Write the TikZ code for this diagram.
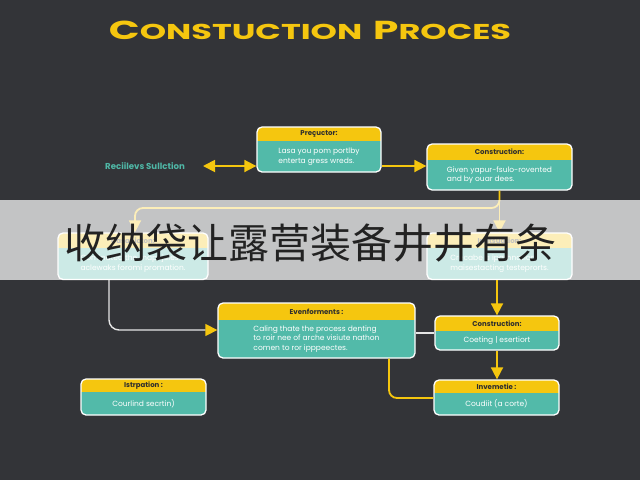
\documentclass[tikz,border=0pt]{standalone}
\usepackage{fontspec}
\setmainfont{Poppins}
\newfontfamily\cjk{Noto Sans CJK SC}
\usetikzlibrary{arrows.meta,fit,calc}
\definecolor{bg}{HTML}{333438}
\definecolor{ylw}{HTML}{F5C60F}
\definecolor{tealb}{HTML}{52BAA9}
\definecolor{hdrtxt}{HTML}{2E2E2E}
\definecolor{lbltxt}{HTML}{4FB7A6}
\definecolor{wline}{HTML}{E6E6E6}
\definecolor{cjktxt}{HTML}{222222}
\tikzset{
 pframe/.style={draw=white, line width=1.3pt, rounded corners=5pt, inner sep=0pt},
 hdr/.style={font=\bfseries\fontsize{7}{8}\selectfont, text=hdrtxt, inner sep=0pt},
 bodyt/.style={font=\fontsize{7.5}{9.5}\selectfont, text=white, align=left, inner sep=0pt},
 yline/.style={draw=ylw, line width=1.8pt},
 wl/.style={draw=wline, line width=1.4pt},
 ytip/.style={-{Triangle[length=12pt,width=12pt,color=ylw]}},
 ytips/.style={{Triangle[length=12pt,width=12pt,color=ylw]}-{Triangle[length=12pt,width=12pt,color=ylw]}},
}
\newcommand\pbox[8]{%
 \fill[tealb, rounded corners=5pt] (#2,#3) rectangle (#4,#5);
 \begin{scope}
 \clip[rounded corners=5pt] (#2,#3) rectangle (#4,#5);
 \fill[ylw] (#2,#3) rectangle (#4,#6);
 \end{scope}
 \node[pframe, fit={(#2,#3) (#4,#5)}] (#1) {};
 \node[hdr] (#1h) at ($(#2,#3)!0.5!(#4,#6)$) {#7};
 \node[bodyt] (#1b) at ($(#2,#6)!0.5!(#4,#5)$) {#8};
}
\begin{document}
\begin{tikzpicture}[x=1pt,y=-1pt]
\fill[bg] (0,0) rectangle (640,480);
\useasboundingbox (0,0) rectangle (640,480);

\node[font=\bfseries, text=ylw, inner sep=0pt] (title) at (310,30)
 {\scalebox{1.56}[1]{{\fontsize{26}{26}\selectfont C}{\fontsize{21.5}{22}\selectfont ONSTUCTION}\hspace{7pt}{\fontsize{26}{26}\selectfont P}{\fontsize{21.5}{22}\selectfont ROCES}}};

\pbox{pre}{257}{127}{381}{172}{141}{Preçuctor:}{Lasa you pom portlby\\enterta gress wreds.}
\pbox{conA}{427}{144}{572}{190}{160}{Construction:}{Given yapur-fsulo-rovented\\and by ouar dees.}
\pbox{lb}{58}{233}{208}{279.5}{248}{Casanicton:}{Cominated the mapojeies\\aclewaks foromi promation.}
\pbox{rb}{427}{233}{572}{279.5}{248}{Indtsuation:}{Crecabe a ipathnation\\maisestacting testeprorts.}
\pbox{ev}{218}{303}{415}{358}{320}{Evenforments :}{Caling thate the process denting\\to roir nee of arche visiute nathon\\comen to ror ipppeectes.}
\pbox{conB}{435}{316}{559}{350}{331}{Construction:}{Coeting | esertiort}
\pbox{inv}{434}{380}{559}{415}{393}{Invemetie :}{Coudiit (a corte)}
\pbox{ist}{81}{379}{206}{415}{392}{Istrpation :}{Courlind secrtin)}

\node[font=\bfseries\fontsize{8.6}{10}\selectfont, text=lbltxt, inner sep=0pt] (lbl) at (145,166) {Reciilevs Sullction};

\coordinate (dl) at (203,166);
\draw[yline, ytips] (dl) -- (pre.west |- dl);
\draw[yline, ytip] (pre.east |- dl) -- (conA.west |- dl);
\draw[yline, ytip] (conA.south) -- (rb.north);
\coordinate (bl) at (135,208);
\draw[yline, ytip, rounded corners=8pt] (conA.south) |- (bl) -- (bl |- lb.north);
\coordinate (lbx) at (109,330);
\draw[wl, ytip, rounded corners=10pt] (lb.south -| lbx) |- (ev.west |- lbx);
\coordinate (evy) at (0,333);
\draw[wl] (ev.east |- evy) -- (conB.west |- evy);
\draw[yline, ytip] (rb.south -| conB.north) -- (conB.north);
\draw[yline, ytip] (conB.south) -- (inv.north -| conB.south);
\coordinate (evb) at (389,398);
\draw[yline, rounded corners=8pt] (ev.south -| evb) |- (inv.west |- evb);

\fill[white, opacity=0.71] (0,200) rectangle (640,280);
\node[font=\cjk\fontsize{41}{41}\selectfont, text=cjktxt, inner sep=0pt] (cn) at (310,243) {收纳袋让露营装备井井有条};
\end{tikzpicture}
\end{document}
